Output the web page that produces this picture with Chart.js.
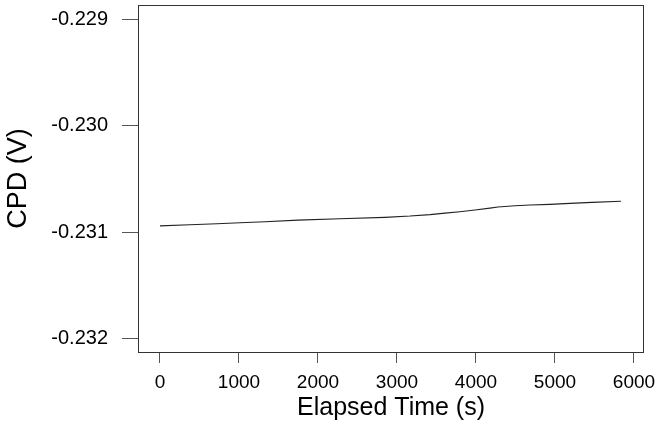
<!DOCTYPE html>
<html><head><meta charset="utf-8">
<script src="https://cdn.jsdelivr.net/npm/chart.js@4/dist/chart.umd.min.js"></script>
<style>html,body{margin:0;padding:0;background:#fff}#wrap{width:662px;height:432px}</style>
</head><body><div id="wrap"><canvas id="c" width="662" height="432"></canvas></div>
<script>
const timeSeconds = [0,380,722,1013,1329,1747,2278,2848,3165,3418,3608,3797,3987,4177,4278,4494,4684,4937,5190,5468,5835];
const cpdVolts = [-0.230941,-0.230931,-0.230922,-0.230912,-0.230903,-0.230887,-0.230875,-0.230861,-0.230849,-0.230835,-0.230821,-0.230808,-0.230792,-0.230774,-0.230764,-0.230752,-0.230745,-0.230739,-0.230729,-0.230720,-0.230710];
const xTicks = [0,1000,2000,3000,4000,5000,6000];
const yTicks = [-0.229,-0.230,-0.231,-0.232];
const xLabel = 'Elapsed Time (s)';
const yLabel = 'CPD (V)';

const FONT = '"Liberation Sans", Arial, Helvetica, sans-serif';
const points = timeSeconds.map((t,i)=>({x:t,y:cpdVolts[i]}));

const boxPlugin = {
  id:'box',
  afterDraw(chart){
    const {ctx, chartArea:a} = chart;
    ctx.save();
    ctx.strokeStyle = '#333';
    ctx.lineWidth = 1;
    ctx.strokeRect(a.left+0.5, a.top+0.5, a.right-a.left-1, a.bottom-a.top);
    ctx.restore();
  }
};

new Chart(document.getElementById('c'), {
  type:'scatter',
  data:{datasets:[{data:points, showLine:true, borderColor:'#222', borderWidth:1.1, pointRadius:0, fill:false, tension:0}]},
  options:{
    responsive:false, animation:false, devicePixelRatio:1,
    layout:{padding:{top:5,right:18,bottom:0,left:0}},
    plugins:{legend:{display:false}, tooltip:{enabled:false}},
    scales:{
      x:{
        type:'linear', position:'bottom', min:-278, max:6127,
        afterBuildTicks(s){ s.ticks = xTicks.map(v=>({value:v})); },
        afterFit(s){ s.height = 80; s.paddingLeft = 0; s.paddingRight = 0; },
        border:{display:false},
        grid:{drawOnChartArea:false, drawTicks:true, tickLength:11, color:'#555', lineWidth:1},
        ticks:{padding:8, color:'#000', font:{family:FONT,size:19}, maxRotation:0, autoSkip:false, callback:(v)=>String(v)},
        title:{display:true, text:xLabel, color:'#000', font:{family:FONT,size:25}, padding:{top:0,bottom:9}}
      },
      y:{
        type:'linear', position:'left', min:-0.23213, max:-0.22886,
        afterBuildTicks(s){ s.ticks = yTicks.map(v=>({value:v})); },
        afterFit(s){ s.width = 138; s.paddingTop = 0; s.paddingBottom = 0; },
        border:{display:false},
        grid:{drawOnChartArea:false, drawTicks:true, tickLength:16, color:'#555', lineWidth:1},
        ticks:{padding:14, color:'#000', font:{family:FONT,size:20}, autoSkip:false, callback:(v)=>Number(v).toFixed(3)},
        title:{display:true, text:yLabel, color:'#000', font:{family:FONT,size:27}, padding:{top:2,bottom:0}}
      }
    }
  },
  plugins:[boxPlugin]
});
</script></body></html>
